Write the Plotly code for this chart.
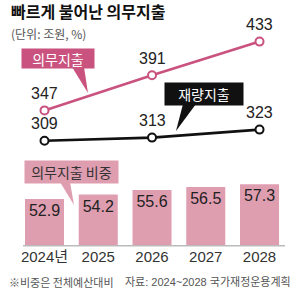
import plotly.graph_objects as go

# ---- data ----
years = ["2024년", "2025", "2026", "2027", "2028"]
share = [52.9, 54.2, 55.6, 56.5, 57.3]          # 의무지출 비중 (%)
line_years = ["2024년", "2026", "2028"]
mandatory = [347, 391, 433]                      # 의무지출 (조원)
discretionary = [309, 313, 323]                  # 재량지출 (조원)

title = "빠르게 불어난 의무지출"
subtitle = "(단위: 조원, %)"
note_left = "※비중은 전체예산대비"
note_right = "자료: 2024~2028 국가재정운용계획"

# ---- style ----
W, H = 300, 298
PINK = "#c9527f"
BAR = "#df9db0"
NUM_FONT = "Liberation Sans Narrow, Liberation Sans, Arial Narrow, sans-serif"
KR_FONT = "Noto Sans CJK KR, Noto Sans, sans-serif"


def px(x):
    return x / W


def py(y):
    return 1 - y / H


fig = go.Figure()

fig.add_trace(go.Bar(
    x=years, y=share, marker=dict(color=BAR, line=dict(width=0)), width=0.726,
    text=[f"{v:.1f}" for v in share], textposition="inside", insidetextanchor="end",
    textangle=0, constraintext="none",
    textfont=dict(family=NUM_FONT, size=16, color="#222"),
    yaxis="y", showlegend=False,
))

for vals, col in ((mandatory, PINK), (discretionary, "#111")):
    fig.add_trace(go.Scatter(
        x=line_years, y=vals, mode="lines+markers", yaxis="y2",
        line=dict(color=col, width=2.6),
        marker=dict(symbol="circle", size=8, color="white", line=dict(color=col, width=2)),
        showlegend=False, cliponaxis=False,
    ))
    for xv, yv in zip(line_years, vals):
        fig.add_annotation(x=years.index(xv), y=yv, xref="x", yref="y2", text=str(yv),
                           showarrow=False, yshift=17,
                           font=dict(family=NUM_FONT, size=16, color="#222"))

annotations = []
# title & subtitle
annotations.append(dict(x=px(9), y=py(11), xref="paper", yref="paper", text=f"<b>{title}</b>",
                        showarrow=False, xanchor="left", yanchor="middle",
                        font=dict(family=KR_FONT, size=16, color="#111")))
annotations.append(dict(x=px(9), y=py(34), xref="paper", yref="paper", text=subtitle,
                        showarrow=False, xanchor="left", yanchor="middle",
                        font=dict(family=KR_FONT, size=12, color="#555")))
# callout boxes
boxes = [
    ("의무지출", 58, 58.5, 72, 19, PINK, "white"),
    ("재량지출", 204, 94, 78, 22, "#111", "white"),
    ("의무지출 비중", 71.5, 172, 93, 22, BAR, "#333"),
]
for txt, cx, cy, bw, bh, bg, fc in boxes:
    annotations.append(dict(x=px(cx), y=py(cy), xref="paper", yref="paper", text=txt,
                            showarrow=False, xanchor="center", yanchor="middle",
                            width=bw, height=bh, bgcolor=bg, borderpad=0,
                            font=dict(family=KR_FONT, size=14, color=fc)))
# footnotes
annotations.append(dict(x=px(7), y=py(282), xref="paper", yref="paper", text=note_left,
                        showarrow=False, xanchor="left", yanchor="middle",
                        font=dict(family=KR_FONT, size=11, color="#555")))
annotations.append(dict(x=px(293), y=py(282), xref="paper", yref="paper", text=note_right,
                        showarrow=False, xanchor="right", yanchor="middle",
                        font=dict(family=NUM_FONT + ", " + KR_FONT, size=11, color="#555")))
for a in annotations:
    fig.add_annotation(**a)


def tail(pts, color):
    path = "M " + " L ".join(f"{px(x):.4f},{py(y):.4f}" for x, y in pts) + " Z"
    return dict(type="path", xref="paper", yref="paper", path=path,
                fillcolor=color, line=dict(width=0), layer="above")


shapes = [
    tail([(72, 67), (84, 67), (88, 93)], PINK),
    tail([(183, 104), (196, 104), (176, 131)], "#111"),
    tail([(60, 182), (70, 182), (74, 205)], BAR),
    dict(type="line", xref="paper", yref="paper", x0=px(23), x1=px(285), y0=py(245.7), y1=py(245.7),
         line=dict(color="#bbb", width=1.5), layer="above"),
]

dom0 = 1 - 245.7 / H
fig.update_layout(
    width=W, height=H, margin=dict(l=0, r=0, t=0, b=0),
    paper_bgcolor="white", plot_bgcolor="white",
    shapes=shapes, bargap=0.27,
    xaxis=dict(type="category", categoryorder="array", categoryarray=years,
               range=[-0.828, 4.753], showgrid=False, zeroline=False, showline=False,
               ticks="", tickfont=dict(family=NUM_FONT + ", " + KR_FONT, size=15, color="#333"),
               anchor="y"),
    yaxis=dict(domain=[dom0, 1], range=[38.9, 112.46], visible=False, fixedrange=True),
    yaxis2=dict(domain=[dom0, 1], range=[177.9, 485], overlaying="y", visible=False),
)

fig.write_html("out.html")
